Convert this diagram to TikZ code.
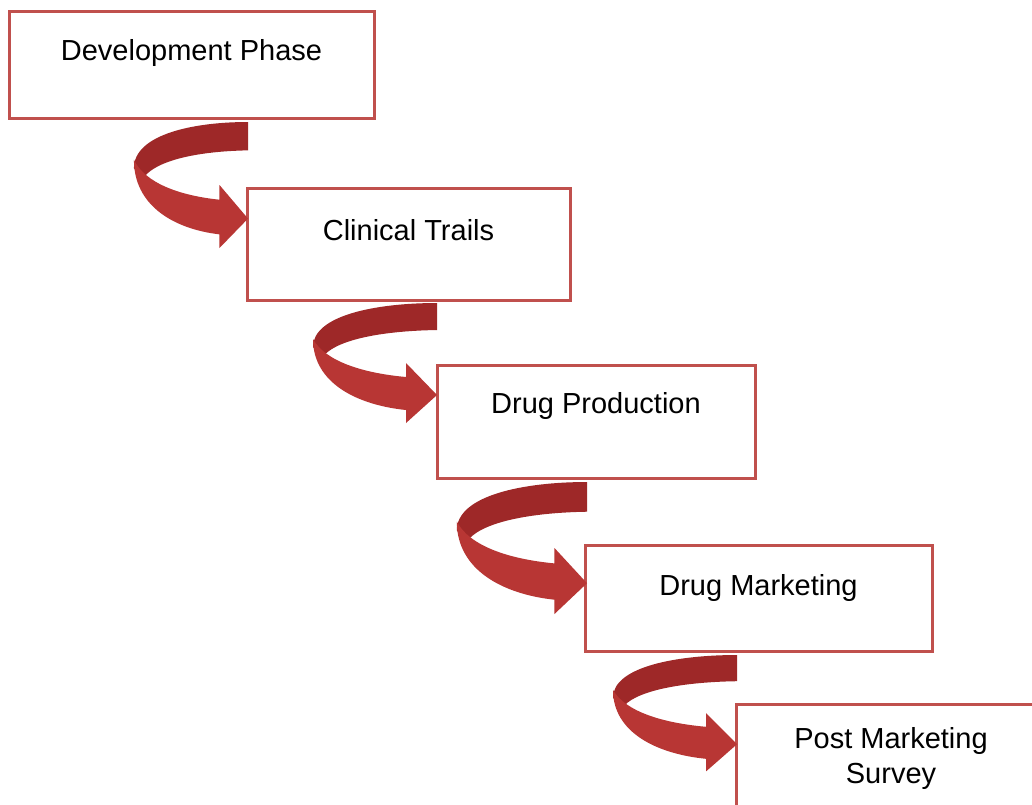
\documentclass[tikz,border=0pt]{standalone}
\usepackage{fontspec}
\setmainfont{Liberation Sans}
\usetikzlibrary{positioning}

\definecolor{boxred}{RGB}{192,80,77}
\definecolor{bandback}{RGB}{158,40,40}
\definecolor{bandfront}{RGB}{184,54,52}

\tikzset{
  stage/.style={draw=boxred, line width=1.5pt, fill=white, outer sep=0pt,
    inner sep=0pt, anchor=north west},
  stagetext/.style={font=\fontsize{14.5}{17.5}\selectfont, align=center, inner sep=0pt},
  % curled arrow, drawn from the top of its tail end
  twist/.pic={
    \fill[bandback] (0,0) .. controls (-60,0) and (-124,12) .. (-124,44)
      -- (-115,55) .. controls (-104,38) and (-60,28) .. (0,27) -- cycle;
    \fill[bandfront] (-124,36) .. controls (-124,80) and (-80,102) .. (-31,107)
      -- (-31,120) -- (0,92) -- (-31,60) -- (-31,74)
      .. controls (-75,70) and (-112,58) .. (-124,36) -- cycle;
  }
}

\begin{document}
\begin{tikzpicture}[x=0.5pt,y=-0.5pt]
  \useasboundingbox[fill=white] (0,0) rectangle (1032,804);

  % the stages
  \node[stage, minimum width=182.5pt, minimum height=53.5pt] (dev) at (9,11) {};
  \node[stage, minimum width=161.5pt, minimum height=56pt] (clin) at (247,188) {};
  \node[stage, minimum width=159pt, minimum height=56.5pt] (prod) at (437,365) {};
  \node[stage, minimum width=173.5pt, minimum height=53pt] (mark) at (585,545) {};
  \node[stage, minimum width=155pt, minimum height=58pt] (post) at (736,704) {};

  \node[stagetext, below=14pt of dev.north] {Development Phase};
  \node[stagetext, below=15.5pt of clin.north] {Clinical Trails};
  \node[stagetext, below=13.5pt of prod.north] {Drug Production};
  \node[stagetext, below=14.5pt of mark.north] {Drug Marketing};
  \node[stagetext, below=11.5pt of post.north] {Post Marketing\\Survey};

  % arrows between the stages
  \path (clin.west |- dev.south) ++(1,4) pic[xscale=0.92,yscale=1.05] {twist};
  \path (prod.west |- clin.south) ++(0,3) pic {twist};
  \path (mark.west |- prod.south) ++(2,4) pic[xscale=1.05,yscale=1.1] {twist};
  \path (post.west |- mark.south) ++(1,4) pic[yscale=0.97] {twist};
\end{tikzpicture}
\end{document}
